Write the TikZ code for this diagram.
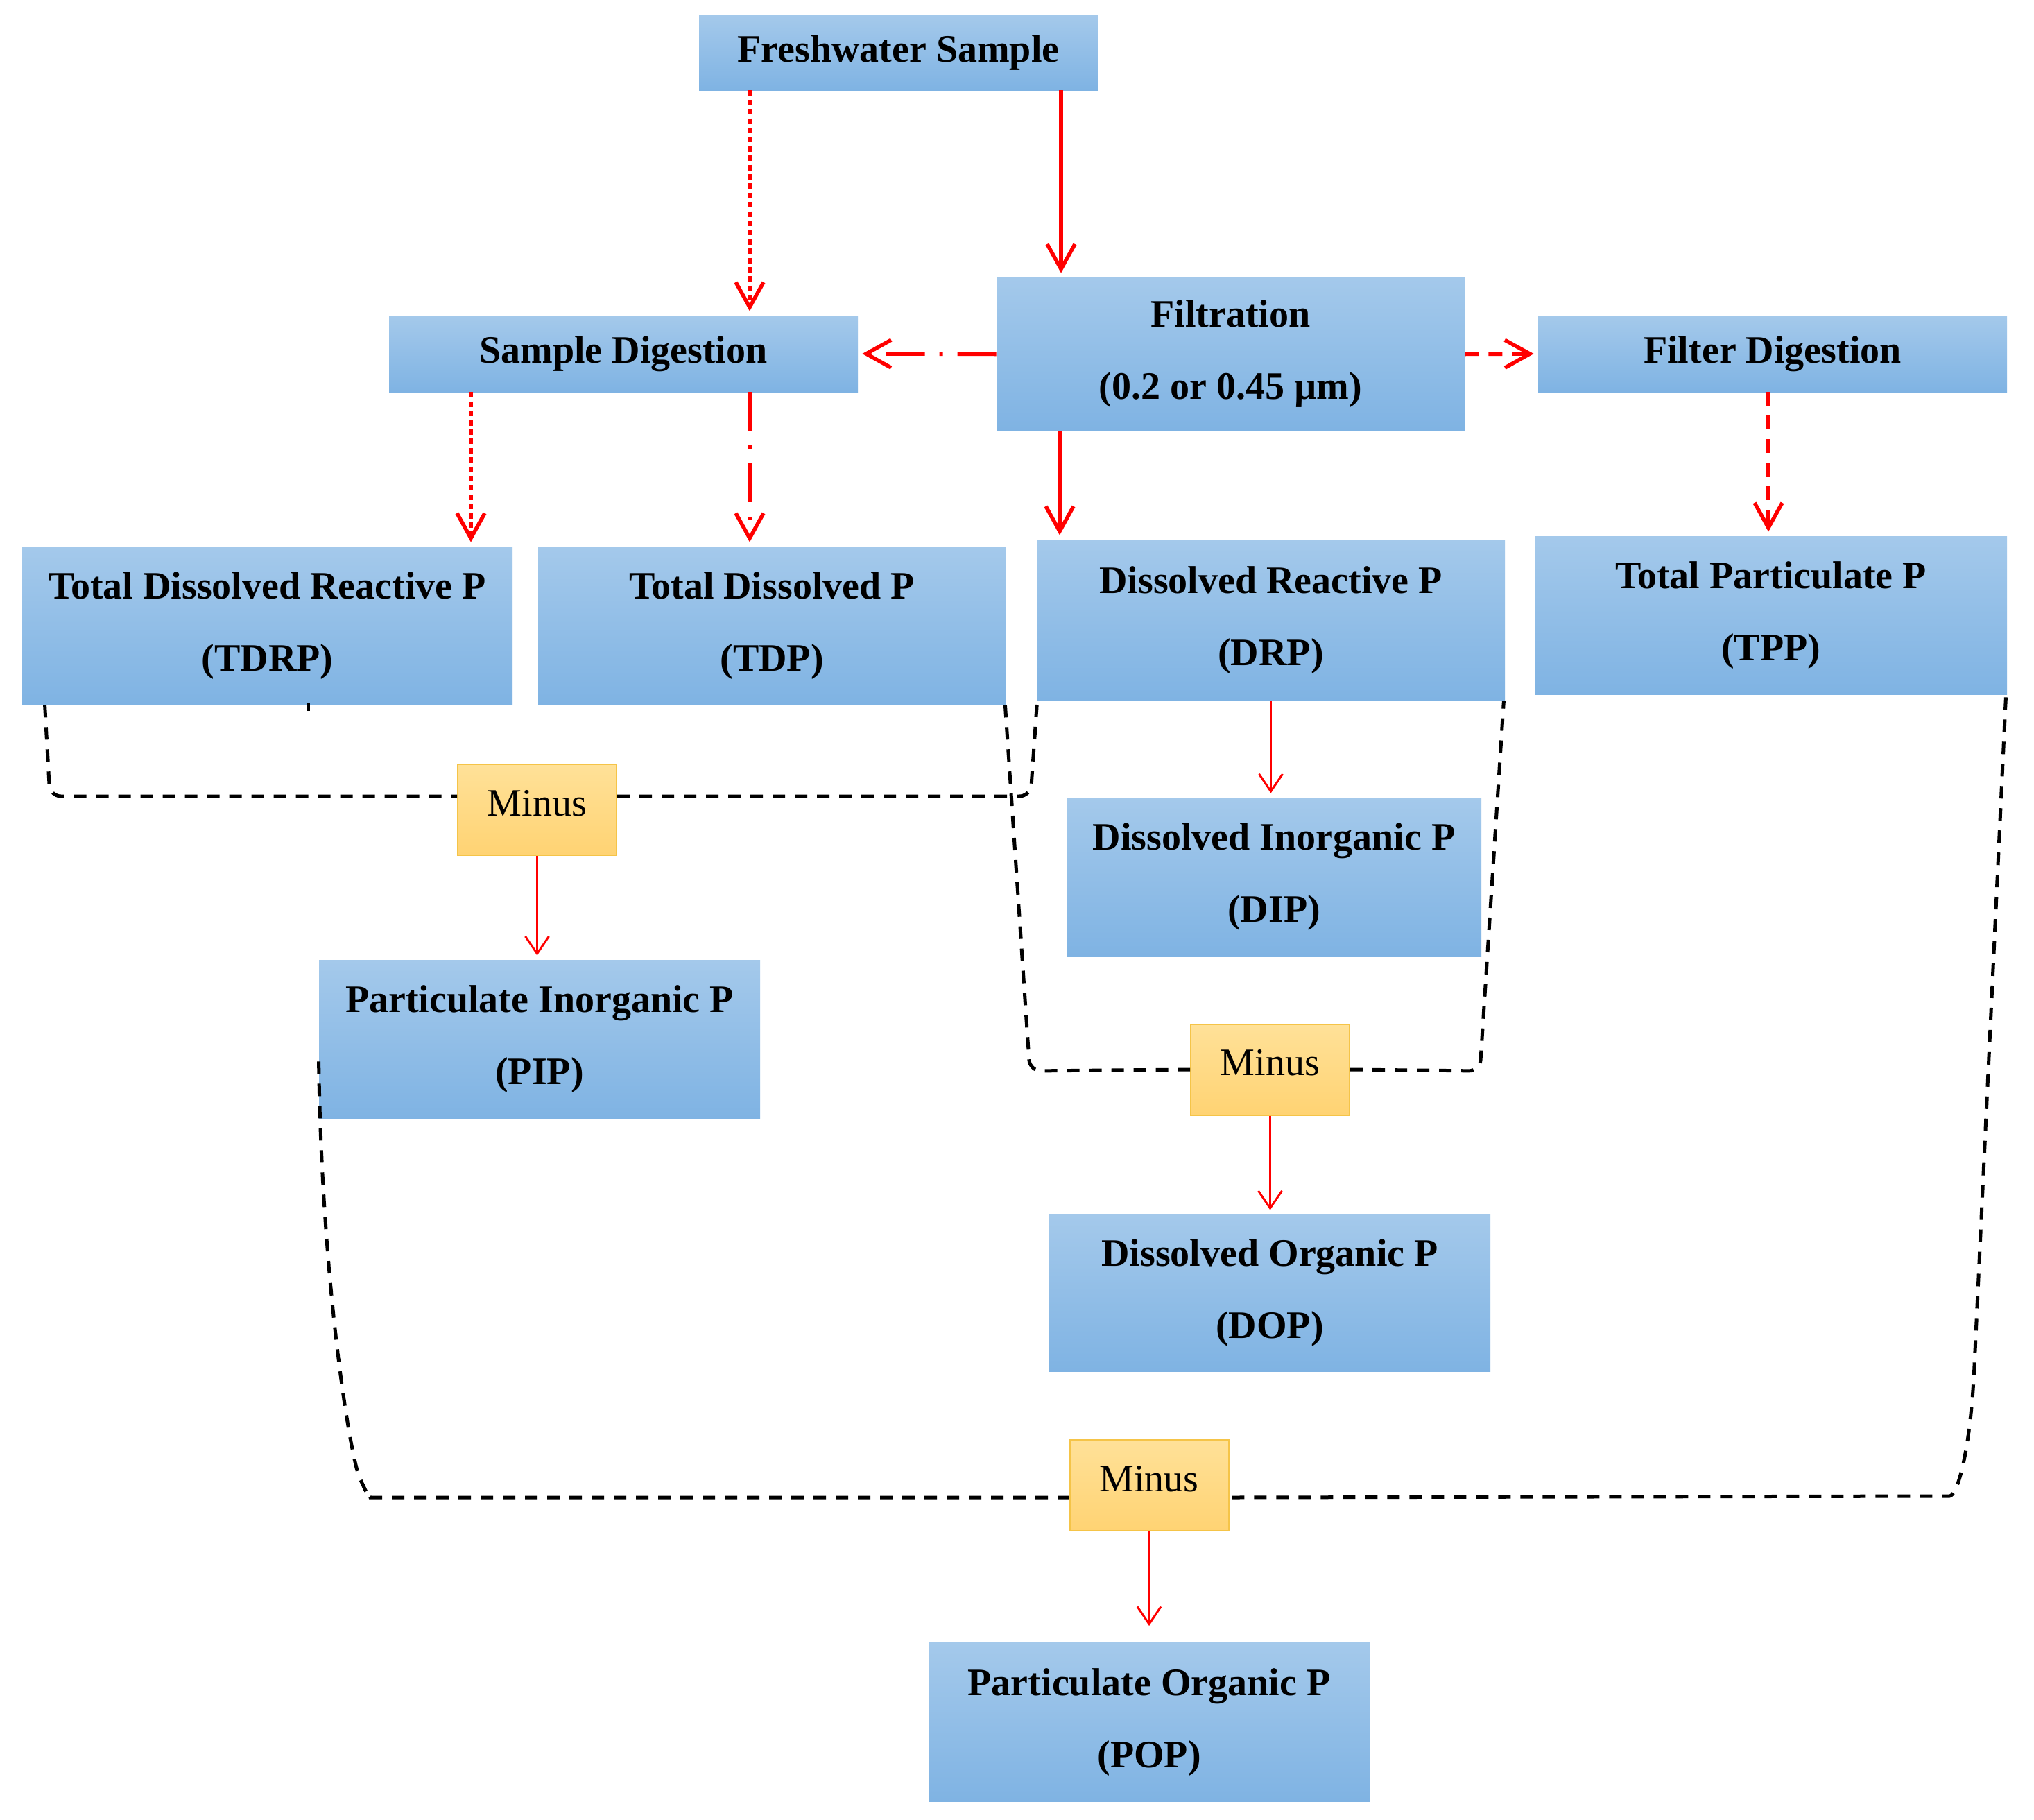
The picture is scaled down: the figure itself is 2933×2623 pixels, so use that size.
\documentclass[tikz,border=0pt]{standalone}
\usepackage{fontspec}
\setmainfont{Liberation Serif}
\usetikzlibrary{arrows.meta,calc}
\definecolor{bluetop}{RGB}{164,201,235}
\definecolor{bluebot}{RGB}{127,179,227}
\definecolor{ortop}{RGB}{255,225,152}
\definecolor{orbot}{RGB}{255,211,115}
\definecolor{orline}{RGB}{245,196,72}
\definecolor{arrred}{RGB}{255,0,0}
\begin{document}
\begin{tikzpicture}[x=0.5pt,y=-0.5pt,
  bbox/.style={top color=bluetop,bottom color=bluebot,draw=none,align=center,
    font=\fontsize{28pt}{52pt}\selectfont\bfseries,inner sep=0pt},
  mbox/.style={top color=ortop,bottom color=orbot,draw=orline,line width=1pt,
    font=\fontsize{28pt}{34pt}\selectfont,minimum width=114.5pt,minimum height=65.5pt,
    text height=18.5pt,text depth=10pt,inner sep=0pt},
  tk/.style={draw=arrred,line width=2.75pt,-{Straight Barb[length=18pt,width=20pt]},shorten >=3pt},
  tn/.style={draw=arrred,line width=1.5pt,-{Straight Barb[length=12.5pt,width=17pt]},shorten >=3pt},
  rdot/.style={dash pattern=on 4pt off 2.7pt},
  rdashdot/.style={dash pattern=on 28pt off 10.5pt on 2.5pt off 10.5pt},
  rdash/.style={dash pattern=on 10pt off 7pt},
  kdash/.style={draw=black,line width=2.5pt,dash pattern=on 9pt off 7pt,rounded corners=8pt},
]
\useasboundingbox[fill=white] (0,0) rectangle (2933,2623);

% boxes
\node[bbox,minimum width=287.5pt,minimum height=54pt] (fresh) at (1295.5,76) {Freshwater Sample};
\node[bbox,minimum width=337.5pt,minimum height=110.5pt] (filt) at (1774.5,510.5) {Filtration\\(0.2 or 0.45 µm)};
\node[bbox,minimum width=338pt,minimum height=55pt] (sdig) at (899,510) {Sample Digestion};
\node[bbox,minimum width=338pt,minimum height=55pt] (fdig) at (2556,510) {Filter Digestion};
\node[bbox,minimum width=353.5pt,minimum height=114pt] (tdrp) at (385.5,902) {Total Dissolved Reactive P\\(TDRP)};
\node[bbox,minimum width=337pt,minimum height=114pt] (tdp) at (1113,902) {Total Dissolved P\\(TDP)};
\node[bbox,minimum width=337.5pt,minimum height=116pt] (drp) at (1832.5,894) {Dissolved Reactive P\\(DRP)};
\node[bbox,minimum width=340.5pt,minimum height=114pt] (tpp) at (2553.5,887) {Total Particulate P\\(TPP)};
\node[bbox,minimum width=299pt,minimum height=114.5pt] (dip) at (1837,1264.5) {Dissolved Inorganic P\\(DIP)};
\node[bbox,minimum width=318pt,minimum height=114pt] (pip) at (778,1498) {Particulate Inorganic P\\(PIP)};
\node[bbox,minimum width=318pt,minimum height=113pt] (dop) at (1831,1864) {Dissolved Organic P\\(DOP)};
\node[bbox,minimum width=318pt,minimum height=114.5pt] (pop) at (1657,2483) {Particulate Organic P\\(POP)};
\node[mbox] (m1) at (774.5,1167.5) {Minus};
\node[mbox] (m2) at (1831.5,1542) {Minus};
\node[mbox] (m3) at (1657,2141.5) {Minus};

% red arrows
\draw[tk] (fresh.south) ++(234.5,0) coordinate (a1s) -- (a1s |- filt.north);
\draw[tk,rdot] (fresh.south) ++(-214.5,0) coordinate (a2s) -- (a2s |- sdig.north);
\draw[tk,rdashdot] (filt.west) -- (sdig.east);
\draw[tk,rdash] (filt.east) -- (fdig.west);
\draw[tk,rdot] (sdig.south) ++(-220,0) coordinate (a5s) -- (a5s |- tdrp.north);
\draw[tk,rdashdot] (sdig.south) ++(182,0) coordinate (a6s) -- (a6s |- tdp.north);
\draw[tk] (filt.south) ++(-246.5,0) coordinate (a7s) -- (a7s |- drp.north);
\draw[tk,rdash] (fdig.south) ++(-6,0) coordinate (a8s) -- (a8s |- tpp.north);
\draw[tn] (drp.south) -- (drp.south |- dip.north);
\draw[tn] (m1.south) -- (m1.south |- pip.north);
\draw[tn] (m2.south) -- (m2.south |- dop.north);
\draw[tn,shorten >=12pt] (m3.south) -- (m3.south |- pop.north);

% black dashed connectors
\draw[kdash] ([xshift=16.5pt]tdrp.south west) -- (72,1148) -- ([yshift=9.75pt]m1.west);
\draw[black,line width=2.5pt] ([xshift=206.5pt,yshift=1.5pt]tdrp.south west) -- ++(0,12);
\draw[kdash] ([yshift=9.75pt]m1.east) -- (1486,1148) -- ([xshift=0.5pt]drp.south west);
\draw[kdash] ([xshift=-0.5pt]tdp.south east) -- (1485,1544) -- (m2.west);
\draw[kdash] (m2.east) -- (2134,1544) -- ([xshift=-1pt]drp.south east);
\draw[kdash] ([yshift=41pt]pip.south west) .. controls (464,1850) and (505,2100) .. (525,2145)
  .. controls (530,2155) and (535,2159) .. (550,2159) -- ([yshift=-8.75pt]m3.west);
\draw[kdash] ([xshift=-1pt,yshift=-2pt]tpp.south east) -- (2846,1990) .. controls (2838,2100) and (2822,2157) .. (2795,2157)
  -- ([yshift=-8.75pt]m3.east);
\end{tikzpicture}
\end{document}
